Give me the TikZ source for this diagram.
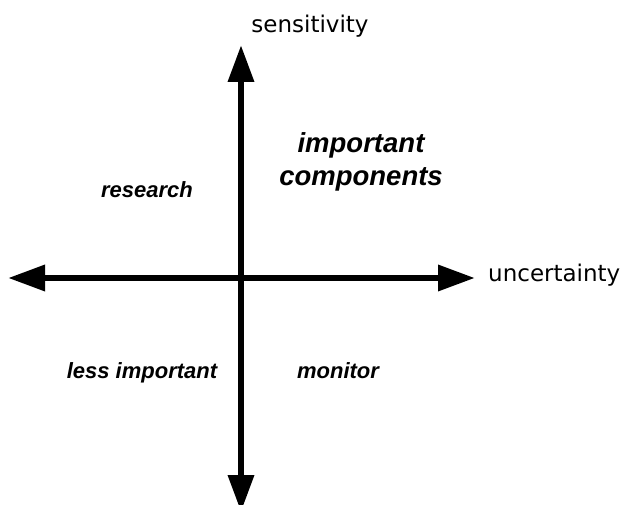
\documentclass[tikz,border=0pt]{standalone}
\usepackage{fontspec}
\setmainfont{Liberation Sans}
\newfontfamily\axisfont{DejaVu Sans}
\usetikzlibrary{arrows.meta}
\tikzset{
	axis/.style={line width=6.5pt, {Triangle[length=37pt,width=25pt]}-{Triangle[length=37pt,width=25pt]}},
	axislabel/.style={font=\axisfont\fontsize{23}{27}\selectfont, inner sep=0pt},
	quadrant/.style={font=\bfseries\itshape\fontsize{22}{26}\selectfont, inner sep=0pt},
	bigquadrant/.style={font=\bfseries\itshape\fontsize{27.5}{33}\selectfont, inner sep=0pt, align=center},
}

\begin{document}
\begin{tikzpicture}[x=1pt, y=-1pt]
		%%%%% START %%%%%
		
		\useasboundingbox (0, 0) rectangle (629, 505);
		
		\coordinate (west) at (8, 278);
		\coordinate (east) at (475, 278);
		\coordinate (north) at (241, 45);
		\coordinate (south) at (241, 512);
		
		\draw[axis] (west) -- (east);
		\draw[axis] (south) -- (north);
		
		\node[axislabel, anchor=base] (sens) at (310, 33) {sensitivity};
		\node[axislabel, anchor=base west] (unc) at (488, 281) {uncertainty};
		
		\node[bigquadrant] (imp) at (361, 161.5) {important\\components};
		\node[quadrant, anchor=base] (res) at (147, 197) {research};
		\node[quadrant, anchor=base] (less) at (142, 378) {less important};
		\node[quadrant, anchor=base] (mon) at (338, 378) {monitor};
		
		%%%%% END %%%%%
	\end{tikzpicture}
\end{document}
